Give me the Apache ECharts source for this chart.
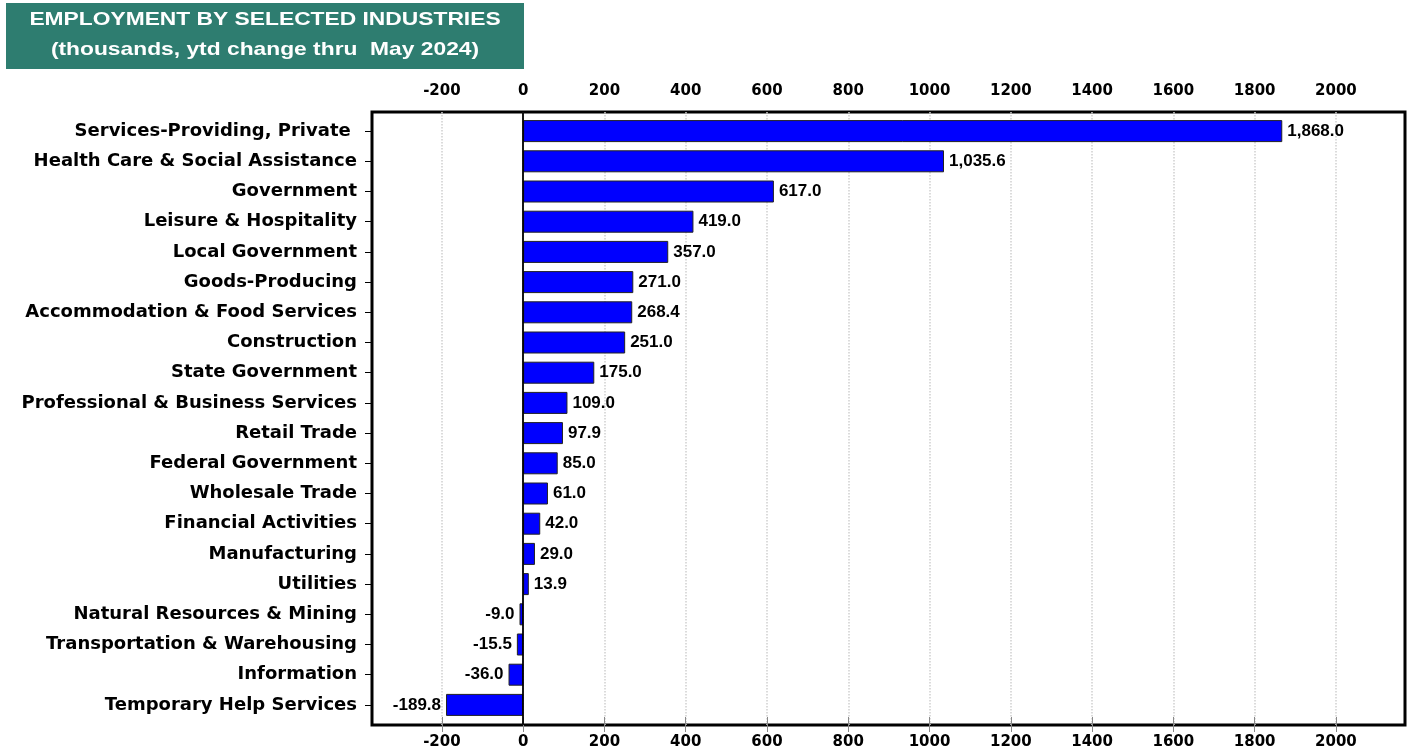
<!DOCTYPE html>
<html>
<head>
<meta charset="utf-8">
<script src="https://cdn.jsdelivr.net/npm/echarts@6/dist/echarts.min.js"></script>
<style>
html,body{margin:0;padding:0;background:#fff;}
#chart{width:1417px;height:756px;}
</style>
</head>
<body>
<div id="chart"></div>
<script>
var categories = [
  'Services-Providing, Private ',
  'Health Care & Social Assistance',
  'Government',
  'Leisure & Hospitality',
  'Local Government',
  'Goods-Producing',
  'Accommodation & Food Services',
  'Construction',
  'State Government',
  'Professional & Business Services',
  'Retail Trade',
  'Federal Government',
  'Wholesale Trade',
  'Financial Activities',
  'Manufacturing',
  'Utilities',
  'Natural Resources & Mining',
  'Transportation & Warehousing',
  'Information',
  'Temporary Help Services'
];
var values = [1868.0, 1035.6, 617.0, 419.0, 357.0, 271.0, 268.4, 251.0, 175.0, 109.0, 97.9, 85.0, 61.0, 42.0, 29.0, 13.9, -9.0, -15.5, -36.0, -189.8];
var tickValues = [-200, 0, 200, 400, 600, 800, 1000, 1200, 1400, 1600, 1800, 2000];
var titleLines = ['EMPLOYMENT BY SELECTED INDUSTRIES', '(thousands, ytd change thru  May 2024)'];

var FONT = '"DejaVu Sans", "Liberation Sans", Arial, sans-serif';
var FONT_A = '"Liberation Sans", Arial, sans-serif';
var XMIN = -372, XMAX = 2170;

function fmt(v) {
  return v.toLocaleString('en-US', {minimumFractionDigits: 1, maximumFractionDigits: 1});
}
function tickFmt(v) { return String(v); }

var chart = echarts.init(document.getElementById('chart'));
var option = {
  animation: false,
  backgroundColor: '#fff',
  graphic: [
    {type: 'rect', left: 6, top: 3, shape: {width: 518, height: 66}, style: {fill: '#2E7D70'}},
    {type: 'text', x: 265, y: 20, scaleX: 1.2, style: {text: titleLines[0], fill: '#fff', font: 'bold 19px ' + FONT_A, align: 'center', verticalAlign: 'middle'}},
    {type: 'text', x: 265, y: 50, scaleX: 1.2, style: {text: titleLines[1], fill: '#fff', font: 'bold 19px ' + FONT_A, align: 'center', verticalAlign: 'middle'}}
  ],
  grid: [
    {left: 372, right: 12, top: 112, bottom: 31, show: true, borderColor: '#000', borderWidth: 3, backgroundColor: 'transparent'},
    {left: 372, right: 12, top: 116, bottom: 36}
  ],
  xAxis: [
    {
      type: 'value', gridIndex: 0, position: 'top', min: XMIN, max: XMAX,
      axisLine: {show: false},
      axisTick: {show: true, inside: false, length: 8, customValues: tickValues, lineStyle: {color: '#888', width: 1}},
      axisLabel: {customValues: tickValues, formatter: tickFmt, margin: 13, color: '#000', fontWeight: 'bold', fontSize: 15, fontFamily: FONT},
      splitLine: {show: true, lineStyle: {color: '#cfcfcf', type: 'dotted', width: 1.5}}
    },
    {
      type: 'value', gridIndex: 0, position: 'bottom', min: XMIN, max: XMAX,
      axisLine: {show: false},
      axisTick: {show: true, inside: false, length: 7, customValues: tickValues, lineStyle: {color: '#888', width: 1}},
      axisLabel: {customValues: tickValues, formatter: tickFmt, margin: 10, color: '#000', fontWeight: 'bold', fontSize: 15, fontFamily: FONT},
      splitLine: {show: false}
    },
    {
      type: 'value', gridIndex: 1, min: XMIN, max: XMAX, show: false
    }
  ],
  yAxis: [
    {type: 'value', gridIndex: 0, show: false, min: 0, max: 1},
    {
      type: 'category', gridIndex: 1, data: categories, inverse: true,
      axisLine: {show: false, onZero: false},
      axisTick: {show: true, length: 7, alignWithLabel: true, lineStyle: {color: '#000'}},
      axisLabel: {margin: 15, color: '#000', fontWeight: 'bold', fontSize: 18, fontFamily: FONT}
    }
  ],
  series: [
    {
      type: 'scatter', xAxisIndex: 0, yAxisIndex: 0, data: [], silent: true,
      markLine: {
        silent: true, symbol: 'none', label: {show: false},
        lineStyle: {color: '#000', type: 'solid', width: 1.8},
        data: [{xAxis: 0}]
      }
    },
    {
      type: 'bar', xAxisIndex: 2, yAxisIndex: 1, barWidth: 22,
      data: values.map(function (v) {
        return {value: v, label: {position: v < 0 ? 'left' : 'right'}};
      }),
      itemStyle: {color: '#0000FF', borderColor: '#222', borderWidth: 1},
      label: {
        show: true, distance: 5, color: '#000', fontWeight: 'bold', fontSize: 17, fontFamily: FONT_A,
        formatter: function (p) { return fmt(p.value); }
      },
      z: 3
    }
  ]
};
chart.setOption(option);
</script>
</body>
</html>
